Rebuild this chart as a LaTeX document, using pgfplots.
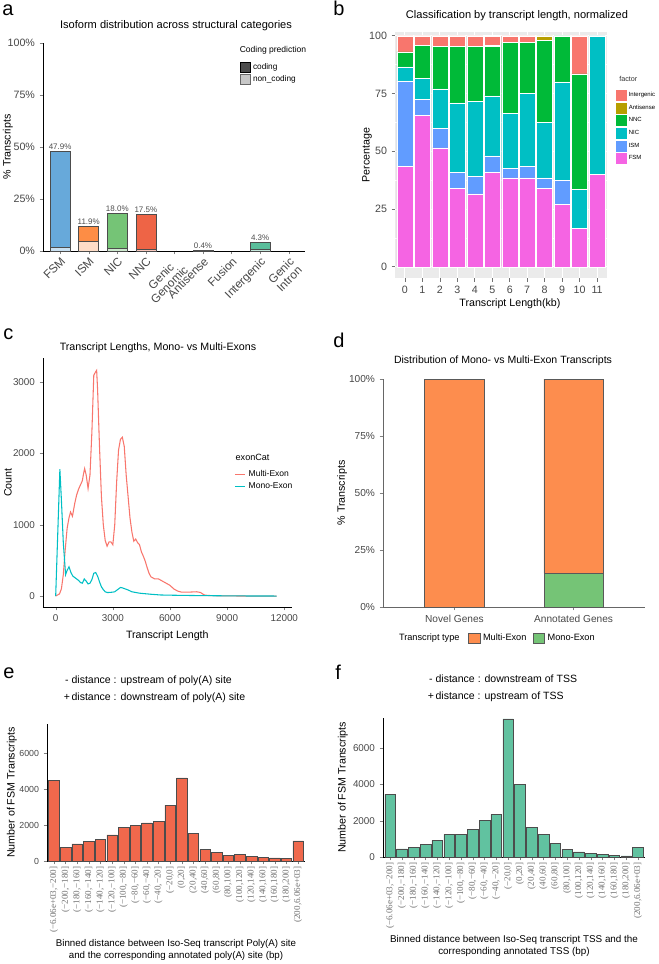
\documentclass[border=0pt]{standalone}
\usepackage{fontspec}
\setmainfont{Liberation Sans}
\newfontfamily\serifticks{Liberation Serif}
\usepackage{pgfplots}
\pgfplotsset{compat=1.18}

\definecolor{cFSM}{HTML}{67A9DA}
\definecolor{cISM}{HTML}{FD8D45}
\definecolor{cNIC}{HTML}{75C476}
\definecolor{cNNC}{HTML}{EE6446}
\definecolor{cInt}{HTML}{5ABE9B}
\definecolor{gFSM}{HTML}{F564E3}
\definecolor{gISM}{HTML}{619CFF}
\definecolor{gNIC}{HTML}{00BFC4}
\definecolor{gNNC}{HTML}{00BA38}
\definecolor{gAnti}{HTML}{B79F00}
\definecolor{gInt}{HTML}{F8766D}
\definecolor{gbg}{HTML}{EBEBEB}
\definecolor{cMulti}{HTML}{F8766D}
\definecolor{cMono}{HTML}{00BFC4}
\definecolor{dMulti}{HTML}{FD8D4E}
\definecolor{dMono}{HTML}{75C476}
\definecolor{ePA}{HTML}{F0684C}
\definecolor{fTSS}{HTML}{61C2A0}

\pgfplotsset{
  every axis/.append style={
    scale only axis, anchor=south west,
    /pgf/number format/assume math mode=true,
    /pgf/number format/set thousands separator={},
    scaled ticks=false,
    tick align=outside, major tick length=2.5pt,
    tick label style={text=black!72},
    label style={font=\fontsize{8}{9}\selectfont},
  },
  abar/.style={draw=black!70, line width=0.4pt, bar shift=0pt, forget plot},
  pct/.style={nodes near coords, point meta=explicit symbolic,
    nodes near coords style={font=\fontsize{6}{6}\selectfont, text=black!70, inner sep=1pt}},
  binticks/.style={xtick={1,...,22}, xticklabels={{(−6.06e+03,−200]},{(−200,−180]},{(−180,−160]},{(−160,−140]},{(−140,−120]},{(−120,−100]},{(−100,−80]},{(−80,−60]},{(−60,−40]},{(−40,−20]},{(−20,0]},{(0,20]},{(20,40]},{(40,60]},{(60,80]},{(80,100]},{(100,120]},{(120,140]},{(140,160]},{(160,180]},{(180,200]},{(200,6.06e+03]}},
    xticklabel style={rotate=90, anchor=east, font=\serifticks\fontsize{6.8}{7}\selectfont, text=black!55, inner sep=1.5pt}},
}

\begin{document}
\begin{tikzpicture}
\path[use as bounding box] (0,0) rectangle ({658*0.75pt},{-964*0.75pt});

% a: structural categories
\begin{axis}[at={(32.25pt,-188.25pt)}, width=196.5pt, height=156pt, clip=false,
  xmin=-0.6, xmax=8.57, ymin=0, ymax=100,
  axis x line*=bottom, axis y line*=left,
  ytick={0,25,50,75,100}, yticklabels={0\%,25\%,50\%,75\%,100\%},
  yticklabel style={font=\fontsize{8}{9}\selectfont},
  xtick={0,...,8},
  xticklabels={FSM,ISM,NIC,NNC,{Genic\\Genomic},Antisense,Fusion,Intergenic,{Genic\\Intron}},
  xticklabel style={rotate=45, anchor=north east, align=center, font=\fontsize{8.8}{8.8}\selectfont, inner sep=1pt},
  ylabel={\% Transcripts},
  ylabel style={at={(rel axis cs:-0.134,0.5)}, anchor=center},
  ybar, bar width=0.7,
  legend image code/.code={\draw[#1] (0pt,-3.6pt) rectangle (7.5pt,3.6pt);},
  legend style={at={(rel axis cs:0.735,0.93)}, anchor=north west, draw=none, fill=none,
    font=\fontsize{6.2}{7}\selectfont, row sep=-1pt},
  legend cell align=left,
]
\addplot[abar, fill=cFSM, pct] coordinates {(0,47.9) [47.9\%]};
\addplot[abar, fill=cFSM!35!white] coordinates {(0,1.7)};
\addplot[abar, fill=cISM, pct] coordinates {(1,11.9) [11.9\%]};
\addplot[abar, fill=cISM!30!white] coordinates {(1,4.8)};
\addplot[abar, fill=cNIC, pct] coordinates {(2,18.0) [18.0\%]};
\addplot[abar, fill=cNIC!35!white] coordinates {(2,1.2)};
\addplot[abar, fill=cNNC, pct] coordinates {(3,17.5) [17.5\%]};
\addplot[abar, fill=cNNC!35!white] coordinates {(3,0.6)};
\addplot[abar, fill=black!60, pct] coordinates {(5,0.4) [0.4\%]};
\addplot[abar, fill=cInt, pct] coordinates {(7,4.3) [4.3\%]};
\addplot[abar, fill=cInt!35!white] coordinates {(7,0.9)};
\addlegendimage{fill=black!70, draw=black}
\addlegendentry{coding}
\addlegendimage{fill=black!22, draw=black!60}
\addlegendentry{non\_coding}
\node[anchor=base west, font=\fontsize{6.4}{7}\selectfont] at (rel axis cs:0.733,0.955) {Coding prediction};
\end{axis}

% b: length bins, normalized
\begin{axis}[at={(296.25pt,-208.725pt)}, width=159pt, height=184.5pt, clip=false,
  xmin=-0.57, xmax=11.57, ymin=-5, ymax=101.5,
  axis background/.style={fill=gbg},
  axis line style={draw=none},
  tick pos=left, tick style={black!55, line width=0.5pt},
  xtick={0,...,11}, ytick={0,25,50,75,100},
  minor ytick={12.5,37.5,62.5,87.5}, minor tick length=0pt,
  xmajorgrids, ymajorgrids, yminorgrids,
  major grid style={white, line width=0.7pt},
  minor grid style={white, line width=0.35pt},
  tick label style={font=\fontsize{8}{9}\selectfont},
  xlabel={Transcript Length(kb)}, ylabel={Percentage},
  xlabel style={at={(rel axis cs:0.542,-0.104)}, anchor=center},
  ylabel style={at={(rel axis cs:-0.132,0.5)}, anchor=center},
  ybar stacked, bar width=0.92,
  every axis plot/.append style={draw=white, line width=0.3pt},
  reverse legend,
  legend image code/.code={\fill[#1] (0pt,-4.5pt) rectangle (9pt,4.5pt);},
  legend style={at={(rel axis cs:1.038,0.77)}, anchor=north west, draw=none, fill=none,
    font=\fontsize{4.5}{5}\selectfont, row sep=0.2pt, inner sep=0pt,
    nodes={inner sep=0.8pt}},
  legend cell align=left,
]
\addplot[fill=gFSM] coordinates {(0,43.5) (1,65.5) (2,51.5) (3,34) (4,31.5) (5,41) (6,38.5) (7,38.5) (8,34) (9,27) (10,16.5) (11,40)};
\addplot[fill=gISM] coordinates {(0,37) (1,7) (2,8.5) (3,7) (4,7.5) (5,7) (6,4) (7,5) (8,4.5) (9,10.5) (10,0) (11,0)};
\addplot[fill=gNIC] coordinates {(0,6) (1,9) (2,17) (3,30) (4,32.5) (5,26) (6,24) (7,31.5) (8,24) (9,42.5) (10,17) (11,60)};
\addplot[fill=gNNC] coordinates {(0,6.5) (1,14.5) (2,18.5) (3,24.5) (4,24) (5,21.5) (6,30.5) (7,22) (8,35.5) (9,20) (10,50) (11,0)};
\addplot[fill=gAnti] coordinates {(0,0) (1,0) (2,0) (3,0) (4,0) (5,0.3) (6,0) (7,0) (8,2) (9,0) (10,0) (11,0)};
\addplot[fill=gInt] coordinates {(0,7) (1,4) (2,4.5) (3,4.5) (4,4.5) (5,4) (6,3) (7,3) (8,0) (9,0) (10,16.5) (11,0)};
\legend{FSM,ISM,NIC,NNC,Antisense,Intergenic}
\node[anchor=base west, font=\fontsize{5.4}{6}\selectfont, text=black!80] at (rel axis cs:1.036,0.8) {factor};
\end{axis}

% c: length distribution
\begin{axis}[at={(32.25pt,-455.25pt)}, width=186.5pt, height=186.75pt,
  xmin=-666, xmax=12388, ymin=-154, ymax=3342,
  axis x line*=bottom, axis y line*=left,
  xtick={0,3000,6000,9000,12000}, ytick={0,1000,2000,3000},
  tick label style={font=\fontsize{7.4}{8}\selectfont},
  xlabel={Transcript Length}, ylabel={Count},
  ylabel style={at={(rel axis cs:-0.141,0.5)}, anchor=center},
  legend image code/.code={\draw[#1] (0pt,0pt) -- (8pt,0pt);},
  legend style={at={(rel axis cs:0.752,0.57)}, anchor=north west, draw=none, fill=none,
    font=\fontsize{6.4}{7}\selectfont, row sep=-1.5pt},
  legend cell align=left,
]
\addplot[cMulti, line width=0.8pt] coordinates {
(0,0) (200,30) (300,100) (400,300) (500,650) (600,950) (700,1100) (780,1180) (880,1120)
(1000,1300) (1100,1420) (1200,1500) (1300,1560) (1400,1620) (1450,1700) (1520,1790)
(1600,1700) (1700,1510) (1800,1700) (1900,2300) (2000,3100) (2100,3150) (2150,3170)
(2200,2900) (2300,2100) (2400,1400) (2500,1000) (2600,780) (2700,700) (2800,760)
(2900,760) (3000,720) (3100,1000) (3200,1600) (3300,2050) (3400,2200) (3500,2230)
(3600,2100) (3700,1700) (3800,1400) (3900,1100) (4000,900) (4100,770) (4200,800)
(4300,750) (4400,720) (4500,620) (4600,560) (4700,490) (4800,400) (4900,320)
(5000,270) (5200,240) (5400,240) (5600,210) (5800,180) (6000,150) (6200,100)
(6400,70) (6600,55) (7000,55) (7400,60) (7600,50) (7800,15) (8000,8) (8500,4)
(9000,2) (10000,0) (11600,0)};
\addlegendentry{Multi-Exon}
\addplot[cMono, line width=0.8pt] coordinates {
(0,0) (220,1780) (300,1350) (400,750) (520,300) (600,360) (700,410) (800,330)
(900,280) (1000,260) (1100,240) (1200,220) (1300,190) (1400,180) (1500,240)
(1600,210) (1700,170) (1800,180) (1900,230) (2000,320) (2100,330) (2200,280)
(2300,200) (2400,130) (2500,90) (2600,60) (2700,50) (2800,50) (3000,55) (3100,60)
(3200,80) (3400,120) (3500,115) (3600,105) (3800,85) (4000,60) (4200,50) (4400,40)
(4600,35) (5000,25) (5500,15) (6000,12) (7000,8) (8000,5) (9000,3) (10000,1) (11600,0)};
\addlegendentry{Mono-Exon}
\node[anchor=base west, font=\fontsize{6.8}{7}\selectfont] at (rel axis cs:0.756,0.59) {exonCat};
\end{axis}

% d: mono vs multi exon
\begin{axis}[at={(287.25pt,-455.25pt)}, width=196.5pt, height=171pt, clip=false,
  xmin=0.4, xmax=2.6, ymin=0, ymax=100,
  axis x line*=bottom, axis y line*=left, axis line style={black!60},
  xtick={1,2}, xticklabels={Novel Genes,Annotated Genes},
  ytick={0,25,50,75,100}, yticklabels={0\%,25\%,50\%,75\%,100\%},
  tick label style={font=\fontsize{7.6}{8}\selectfont},
  ylabel={\% Transcripts},
  ylabel style={at={(rel axis cs:-0.156,0.5)}, anchor=center},
  ybar stacked, bar width=0.5,
  legend columns=-1,
  legend image code/.code={\draw[#1] (0pt,-4pt) rectangle (8.5pt,4pt);},
  legend style={at={(rel axis cs:0.31,-0.137)}, anchor=west, draw=none, fill=none,
    font=\fontsize{6.9}{7}\selectfont, /tikz/every even column/.append style={column sep=3pt}},
]
\addplot[fill=dMono, draw=black!65, forget plot] coordinates {(1,0) (2,14.8)};
\addplot[fill=dMulti, draw=black!65, forget plot] coordinates {(1,100) (2,85.2)};
\addlegendimage{fill=dMulti, draw=black!65}
\addlegendentry{Multi-Exon}
\addlegendimage{fill=dMono, draw=black!65}
\addlegendentry{Mono-Exon}
\node[anchor=east, font=\fontsize{6.9}{7}\selectfont] at (rel axis cs:0.31,-0.137) {Transcript type};
\end{axis}

% e: poly(A) distance
\begin{axis}[at={(35.25pt,-645.75pt)}, width=193.5pt, height=102.75pt,
  xmin=0.4, xmax=22.6, ymin=0, ymax=7611,
  axis x line*=bottom, axis y line*=left,
  ytick={0,2000,4000,6000},
  yticklabel style={font=\fontsize{6.6}{7}\selectfont},
  binticks,
  xlabel={Binned distance between Iso-Seq transcript Poly(A) site\\and the corresponding annotated poly(A) site (bp)},
  xlabel style={align=center, font=\fontsize{7.3}{9}\selectfont},
  ylabel={Number of FSM Transcripts},
  ylabel style={at={(rel axis cs:-0.136,0.5)}, anchor=center},
  ybar, bar width=0.9,
]
\addplot[fill=ePA, draw=black!70, line width=0.4pt] coordinates {
(1,4500) (2,750) (3,950) (4,1100) (5,1200) (6,1450) (7,1850) (8,2000) (9,2120) (10,2220)
(11,3100) (12,4620) (13,1530) (14,650) (15,480) (16,320) (17,360) (18,270) (19,220)
(20,170) (21,130) (22,1120)};
\end{axis}

% f: TSS distance
\begin{axis}[at={(287.25pt,-642.75pt)}, width=196.5pt, height=104.25pt,
  xmin=0.4, xmax=22.6, ymin=0, ymax=7651,
  axis x line*=bottom, axis y line*=left,
  ytick={0,2000,4000,6000},
  yticklabel style={font=\fontsize{7.4}{8}\selectfont},
  binticks,
  xlabel={Binned distance between Iso-Seq transcript TSS and the\\corresponding annotated TSS (bp)},
  xlabel style={align=center, font=\fontsize{7.4}{9}\selectfont},
  ylabel={Number of FSM Transcripts},
  ylabel style={at={(rel axis cs:-0.153,0.5)}, anchor=center},
  ybar, bar width=0.9,
]
\addplot[fill=fTSS, draw=black!70, line width=0.4pt] coordinates {
(1,3450) (2,450) (3,530) (4,700) (5,920) (6,1250) (7,1250) (8,1500) (9,2000) (10,2350)
(11,7600) (12,3980) (13,1650) (14,1250) (15,750) (16,430) (17,280) (18,200) (19,150)
(20,100) (21,60) (22,530)};
\end{axis}

\begin{scope}[x=0.75pt, y=-0.75pt]
\node[anchor=base west, font=\fontsize{15}{15}\selectfont, inner sep=0pt] at (2,15) {a};
\node[anchor=base west, font=\fontsize{15}{15}\selectfont, inner sep=0pt] at (333,15) {b};
\node[anchor=base west, font=\fontsize{15}{15}\selectfont, inner sep=0pt] at (3,339) {c};
\node[anchor=base west, font=\fontsize{15}{15}\selectfont, inner sep=0pt] at (333,347) {d};
\node[anchor=base west, font=\fontsize{15}{15}\selectfont, inner sep=0pt] at (3,678) {e};
\node[anchor=base west, font=\fontsize{15}{15}\selectfont, inner sep=0pt] at (335,679) {f};
\node[anchor=base, font=\fontsize{8.3}{9}\selectfont] at (176,28) {Isoform distribution across structural categories};
\node[anchor=base, font=\fontsize{8.3}{9}\selectfont] at (517,18) {Classification by transcript length, normalized};
\node[anchor=base, font=\fontsize{8}{9}\selectfont] at (158,350) {Transcript Lengths, Mono- vs Multi-Exons};
\node[anchor=base, font=\fontsize{7.9}{9}\selectfont] at (503,363) {Distribution of Mono- vs Multi-Exon Transcripts};
\node[anchor=base west, font=\fontsize{7.9}{9}\selectfont, inner sep=0pt] at (62,683) {\makebox[7pt][c]{-}distance : upstream of poly(A) site};
\node[anchor=base west, font=\fontsize{7.9}{9}\selectfont, inner sep=0pt] at (62,700) {\makebox[7pt][c]{+}distance : downstream of poly(A) site};
\node[anchor=base west, font=\fontsize{7.9}{9}\selectfont, inner sep=0pt] at (426,682) {\makebox[7pt][c]{-}distance : downstream of TSS};
\node[anchor=base west, font=\fontsize{7.9}{9}\selectfont, inner sep=0pt] at (426,699) {\makebox[7pt][c]{+}distance : upstream of TSS};
\end{scope}
\end{tikzpicture}
\end{document}
